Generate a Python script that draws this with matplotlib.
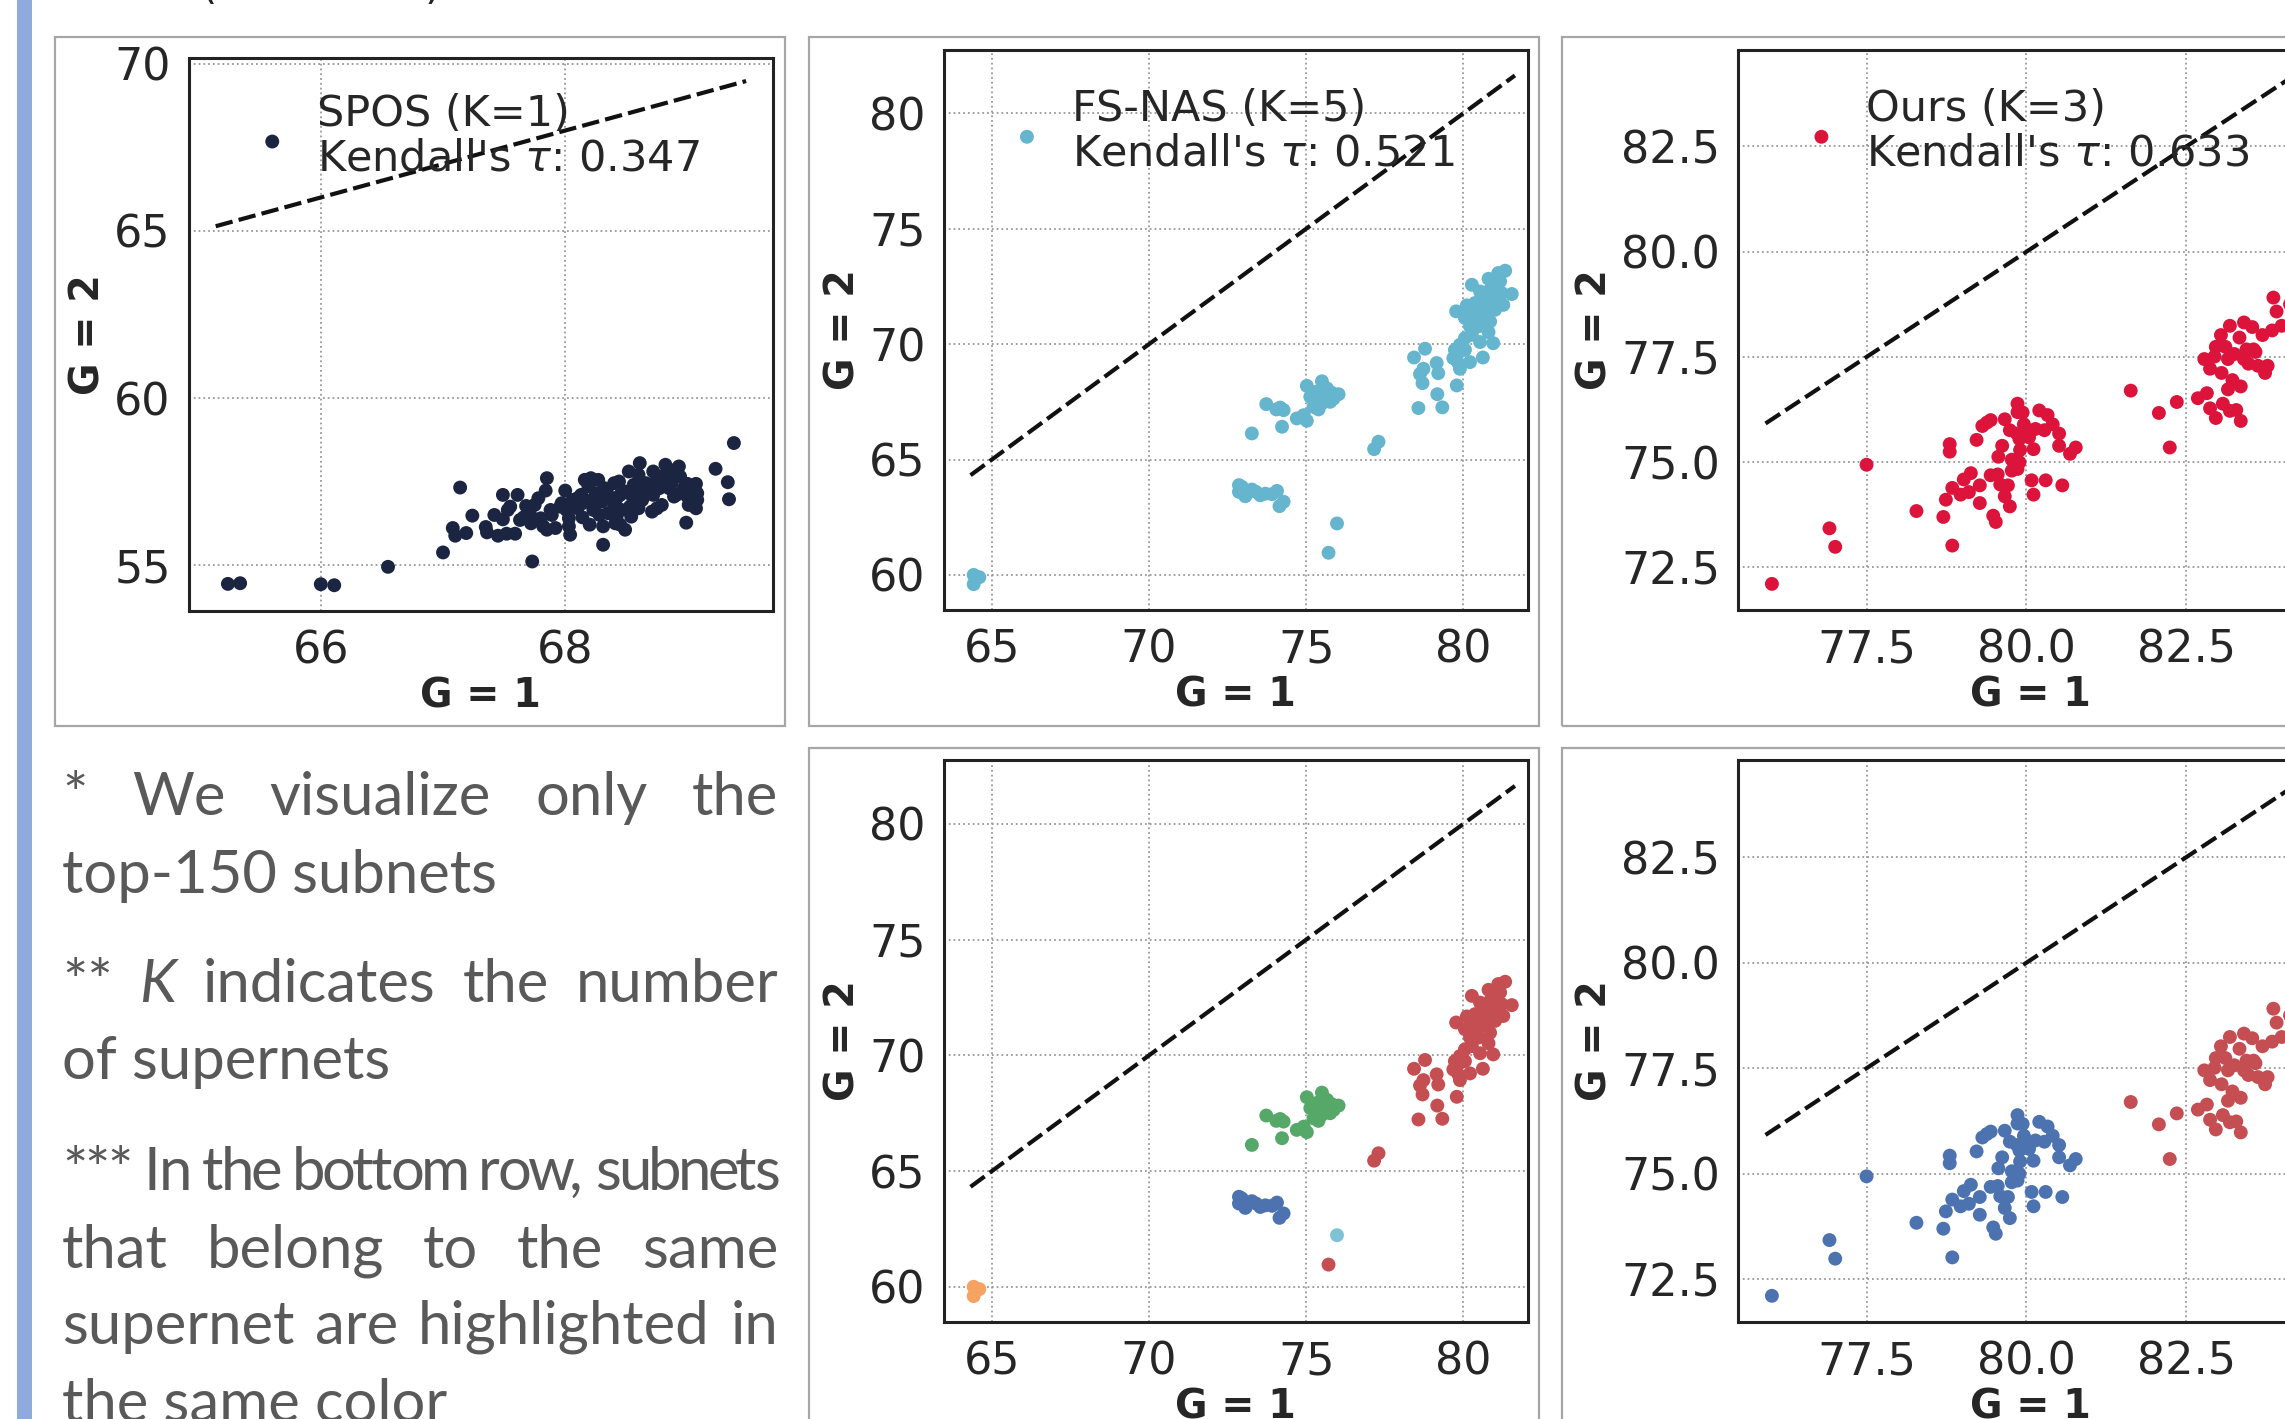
import matplotlib
matplotlib.use("Agg")
import matplotlib.pyplot as plt
from matplotlib.patches import Rectangle
import numpy as np

W, H, DPI = 2285, 1419, 100

# ---- data (G=1 accuracy, G=2 accuracy) ----
spos_pts = [
    (69.38, 58.66), (69.23, 57.89), (69.33, 57.49), (69.34, 56.98), (68.99, 56.28),
    (67.14, 57.33), (67.24, 56.49), (67.08, 56.12), (67.10, 55.89), (67.19, 55.97),
    (67.00, 55.39), (67.73, 55.12), (67.35, 56.15), (67.36, 55.99), (67.45, 55.89),
    (67.52, 55.95), (67.59, 55.95), (67.42, 56.51), (67.49, 56.38), (67.49, 57.11),
    (67.53, 56.66), (67.61, 57.11), (67.68, 56.78), (67.66, 56.44), (67.72, 56.26),
    (67.78, 57.01), (67.84, 57.24), (67.85, 57.61), (67.82, 56.17), (67.89, 56.51),
    (67.92, 56.12), (68.00, 57.24), (68.01, 56.66), (68.03, 56.17), (68.04, 55.92),
    (68.14, 56.86), (68.14, 56.44), (68.16, 57.56), (68.21, 57.61), (68.27, 57.56),
    (68.20, 56.22), (68.25, 57.16), (68.30, 56.91), (68.31, 56.17), (68.31, 55.62),
    (68.35, 56.56), (68.40, 57.46), (68.44, 57.51), (68.41, 56.26), (68.42, 57.01),
    (68.46, 56.66), (68.49, 56.07), (68.52, 57.81), (68.56, 57.41), (68.55, 57.06),
    (68.54, 56.46), (68.61, 58.06), (68.63, 56.96), (68.60, 57.71), (68.72, 57.81),
    (68.73, 57.46), (68.72, 57.11), (68.71, 56.61), (68.79, 56.81), (68.82, 58.01),
    (68.80, 57.56), (68.85, 57.31), (68.89, 57.76), (68.93, 57.96), (68.91, 57.11),
    (69.00, 57.44), (69.07, 57.44), (69.08, 57.16), (69.00, 57.06), (69.01, 56.81),
    (69.07, 56.71), (68.89, 57.06), (68.64, 57.26), (68.40, 56.76), (68.23, 56.66),
    (68.10, 56.71), (67.96, 56.76), (67.88, 56.66), (67.80, 56.41), (67.63, 56.36),
    (68.34, 57.21), (68.49, 57.21), (68.77, 57.66), (68.83, 57.71), (68.87, 57.46),
    (68.66, 57.46), (68.45, 57.11), (68.32, 57.31), (68.22, 56.96), (68.13, 57.11),
    (68.06, 56.96), (67.97, 56.86), (67.75, 56.81), (68.42, 56.46), (68.53, 56.76),
    (68.75, 56.71), (68.60, 56.71), (68.28, 56.51), (68.45, 56.22), (67.85, 56.07),
    (68.03, 56.41), (68.19, 57.36), (68.69, 57.26), (68.94, 57.66), (68.90, 57.86),
    (68.97, 57.31), (68.77, 57.31), (68.59, 57.06), (68.38, 57.01), (68.28, 57.06),
    (68.10, 57.01), (69.08, 56.96), (69.03, 57.26), (67.71, 56.56), (67.55, 56.76),
    (65.24, 54.45), (65.34, 54.47), (66.00, 54.44), (66.11, 54.41), (66.55, 54.96),
]

# FS-NAS (K=5), split by supernet
fs_orange = [(64.42, 60.00), (64.60, 59.90), (64.42, 59.60)]
fs_blue = [
    (72.86, 63.89), (72.86, 63.60), (73.07, 63.44), (72.95, 63.82), (73.06, 63.41),
    (73.27, 63.70), (73.54, 63.45), (73.91, 63.50), (74.07, 63.64), (74.28, 63.17),
    (74.15, 62.98), (73.40, 63.60), (73.70, 63.52),
]
fs_green = [
    (75.50, 68.39), (75.02, 68.19), (75.29, 67.79), (75.60, 67.86), (76.03, 67.83),
    (75.76, 67.50), (75.50, 67.43), (75.23, 67.28), (75.39, 67.17), (75.87, 67.64),
    (75.66, 68.08), (74.92, 66.92), (75.02, 66.68), (74.70, 66.78), (73.73, 67.40),
    (74.05, 67.17), (74.28, 67.14), (74.17, 67.25), (74.23, 66.42), (73.27, 66.13),
    (75.45, 67.57), (75.13, 67.72), (75.35, 67.95), (75.80, 67.90),
]
fs_cyan = [(75.98, 62.23)]
fs_red = [
    (81.33, 73.18), (81.11, 73.08), (80.80, 72.83), (81.17, 72.72), (80.27, 72.57),
    (81.54, 72.17), (80.85, 72.35), (80.53, 72.28), (81.22, 72.21), (80.95, 71.99),
    (81.27, 71.70), (80.74, 71.70), (80.37, 71.78), (80.11, 71.68), (79.77, 71.42),
    (81.01, 71.49), (80.58, 71.49), (80.32, 71.34), (80.05, 71.13), (80.85, 70.98),
    (80.21, 70.77), (80.48, 70.77), (80.80, 70.52), (80.27, 70.40), (80.53, 70.09),
    (80.95, 70.04), (79.89, 69.97), (80.05, 69.75), (78.78, 69.80), (78.43, 69.42),
    (79.73, 69.75), (79.68, 69.39), (79.84, 69.18), (79.89, 68.93), (80.21, 69.22),
    (80.62, 69.42), (79.15, 69.18), (78.73, 68.93), (78.62, 68.70), (79.20, 68.74),
    (78.70, 68.31), (79.79, 68.21), (79.17, 67.83), (78.57, 67.23), (79.33, 67.26),
    (80.74, 71.27), (81.06, 72.50), (80.64, 71.99), (80.42, 71.13), (80.21, 70.98),
    (79.89, 69.68), (80.05, 70.26), (77.30, 65.77), (77.16, 65.45), (75.71, 60.96),
]

# Ours (K=3), split by supernet
ours_blue = [
    (76.02, 72.11), (76.92, 73.43), (77.01, 72.99), (77.50, 74.94), (78.28, 73.84),
    (78.70, 73.70), (78.84, 73.02), (78.74, 74.11), (78.84, 74.39), (78.97, 74.23),
    (79.10, 74.29), (79.02, 74.59), (79.13, 74.74), (79.27, 74.45), (79.27, 74.03),
    (79.44, 74.69), (79.55, 74.71), (79.59, 74.47), (79.71, 74.45), (79.66, 74.19),
    (79.74, 73.95), (79.48, 73.73), (79.52, 73.58), (78.80, 75.43), (78.80, 75.25),
    (79.22, 75.53), (79.31, 75.86), (79.44, 76.00), (79.66, 76.02), (79.86, 76.39),
    (79.86, 76.19), (79.94, 76.18), (79.62, 75.39), (79.56, 75.13), (79.74, 75.76),
    (79.85, 75.68), (79.90, 75.29), (79.89, 75.55), (79.77, 75.06), (79.89, 75.00),
    (79.77, 74.80), (79.86, 74.84), (80.02, 75.75), (80.11, 75.31), (80.20, 76.23),
    (80.33, 76.12), (80.41, 75.90), (80.28, 75.76), (80.14, 75.79), (80.51, 75.68),
    (80.51, 75.39), (80.77, 75.35), (80.68, 75.20), (80.08, 74.57), (80.30, 74.57),
    (80.11, 74.23), (80.56, 74.45), (80.04, 75.59), (79.96, 75.90), (79.38, 75.94),
]
ours_red = [
    (81.63, 76.70), (82.07, 76.17), (82.35, 76.43), (82.24, 75.35), (82.68, 76.52),
    (82.82, 76.64), (82.87, 76.28), (82.96, 76.05), (83.07, 76.39), (83.18, 76.22),
    (83.28, 76.24), (83.35, 75.98), (83.15, 76.73), (83.35, 76.80), (82.87, 77.22),
    (82.94, 77.51), (83.05, 77.12), (83.04, 78.02), (83.11, 77.74), (83.18, 78.24),
    (83.33, 77.96), (83.40, 78.32), (83.53, 78.21), (83.25, 77.57), (83.40, 77.45),
    (83.55, 77.68), (83.62, 77.29), (83.73, 77.12), (83.69, 78.02), (83.86, 78.91),
    (83.91, 78.58), (83.84, 78.13), (83.77, 77.29), (83.22, 76.95), (83.47, 77.34),
    (83.58, 77.62), (82.96, 77.74), (83.15, 77.45), (82.78, 77.45), (83.44, 77.68),
    (83.99, 78.24), (84.12, 78.75), (84.20, 79.05),
]

spos_label = "SPOS (K=1)\nKendall's $\\tau$: 0.347"
fs_label = "FS-NAS (K=5)\nKendall's $\\tau$: 0.521"
ours_label = "Ours (K=3)\nKendall's $\\tau$: 0.633"

note_lines = [
    ("* We visualize only the", "justify", 815),
    ("top-150 subnets", "left", 893),
    ("** K indicates the number", "justify", 1002),
    ("of supernets", "left", 1079),
    ("*** In the bottom row, subnets", "squeeze", 1190),
    ("that belong to the same", "justify", 1268),
    ("supernet are highlighted in", "justify", 1344),
    ("the same color", "left", 1422),
]

TXT = "#262626"
NAVY = "#1b2542"
SKY = "#64b5cd"
CRIMSON = "#dc143c"
D_BLUE, D_ORANGE, D_GREEN, D_RED, D_CYAN = "#4c72b0", "#f5a263", "#55a868", "#c44e52", "#7ec3d3"

fig = plt.figure(figsize=(W / DPI, H / DPI), dpi=DPI)
fig.patch.set_facecolor("white")


def box(l, t, r, b):
    return [l / W, 1 - b / H, (r - l) / W, (b - t) / H]


# left accent bar and panel frames
fig.add_artist(Rectangle((17 / W, 0), 15 / W, 1, transform=fig.transFigure,
                         color="#8faadc", lw=0))
for (l, t, r, b) in [(55, 37, 785, 726), (809, 37, 1539, 726), (1562, 37, 2292, 726),
                     (809, 748, 1539, 1437), (1562, 748, 2292, 1437)]:
    x0, y0, w, h = box(l, t, r, b)
    fig.add_artist(Rectangle((x0, y0), w, h, transform=fig.transFigure,
                             fill=False, ec="#a6a6a6", lw=1.6))

# bits of a cut-off line at the very top
fig.text(200 / W, 1 + 0.5 / H, "(", fontsize=30, color="#222222", va="baseline")
fig.text(425 / W, 1 + 0.5 / H, ")", fontsize=30, color="#222222", va="baseline")


def style(ax, xlim, ylim, xt, yt):
    ax.set_xlim(xlim)
    ax.set_ylim(ylim)
    ax.set_xticks(xt)
    ax.set_yticks(yt)
    ax.grid(True, ls=":", lw=1.3, color="#999999")
    ax.set_axisbelow(True)
    for s in ax.spines.values():
        s.set_color("#222222")
        s.set_linewidth(2.2)
    ax.tick_params(length=0, pad=13, labelsize=32, labelcolor=TXT)
    ax.set_xlabel("G = 1", fontsize=28.5, fontweight="bold", color=TXT, labelpad=3)
    ax.set_ylabel("G = 2", fontsize=28.5, fontweight="bold", color=TXT, labelpad=4)


def diag(ax, xs):
    lo, hi = min(xs) - 0.1, max(xs) + 0.1
    ax.plot([lo, hi], [lo, hi], color="#111111", lw=3.0, ls=(0, (4.2, 1.5)), zorder=4)


def legend(ax, ytop):
    leg = ax.legend(loc="upper left", bbox_to_anchor=(0.106, ytop), frameon=False,
                    fontsize=31, handlelength=1.0, handletextpad=0.54,
                    borderpad=0, borderaxespad=0, scatterpoints=1)
    for t in leg.get_texts():
        t.set_color(TXT)
        t.set_linespacing(1.08)


S = 100
lim2 = ((63.46, 82.04), (58.48, 82.76), [65, 70, 75, 80], [60, 65, 70, 75, 80])
lim3 = ((75.49, 84.62), (71.49, 84.80), [77.5, 80.0, 82.5], [72.5, 75.0, 77.5, 80.0, 82.5])

# top-left: SPOS
ax1 = fig.add_axes(box(188.8, 57.6, 773, 611))
sx, sy = np.array(spos_pts).T
ax1.scatter(sx, sy, s=S, color=NAVY, edgecolors="none", zorder=3, label=spos_label)
diag(ax1, sx)
style(ax1, (64.92, 69.70), (53.64, 70.18), [66, 68], [55, 60, 65, 70])
legend(ax1, 0.936)

fs_groups = [(fs_orange, D_ORANGE), (fs_blue, D_BLUE), (fs_green, D_GREEN),
             (fs_cyan, D_CYAN), (fs_red, D_RED)]
fs_all = np.array(sum([g for g, _ in fs_groups], []))

# top-middle: FS-NAS
ax2 = fig.add_axes(box(943.5, 49.6, 1527.5, 610))
ax2.scatter(fs_all[:, 0], fs_all[:, 1], s=S, color=SKY, edgecolors="none", zorder=3,
            label=fs_label)
diag(ax2, fs_all[:, 0])
style(ax2, *lim2)
legend(ax2, 0.931)

ours_groups = [(ours_blue, D_BLUE), (ours_red, D_RED)]
ours_all = np.array(ours_blue + ours_red)

# top-right: ours
ax3 = fig.add_axes(box(1738, 49.6, 2322, 610))
ax3.scatter(ours_all[:, 0], ours_all[:, 1], s=S, color=CRIMSON, edgecolors="none",
            zorder=3, label=ours_label)
diag(ax3, ours_all[:, 0])
style(ax3, *lim3)
legend(ax3, 0.931)

# bottom row: coloured by supernet
ax4 = fig.add_axes(box(943.5, 760, 1527.5, 1322))
for g, c in fs_groups:
    a = np.array(g)
    ax4.scatter(a[:, 0], a[:, 1], s=S, color=c, edgecolors="none", zorder=3)
diag(ax4, fs_all[:, 0])
style(ax4, *lim2)

ax5 = fig.add_axes(box(1738, 760, 2322, 1322))
for g, c in ours_groups:
    a = np.array(g)
    ax5.scatter(a[:, 0], a[:, 1], s=S, color=c, edgecolors="none", zorder=3)
diag(ax5, ours_all[:, 0])
style(ax5, *lim3)

# ---- justified notes in the lower-left ----
NOTE_FONT, NOTE_SIZE, NOTE_COLOR = "Lato", 43, "#595959"
LEFT, RIGHT = 62, 778
renderer = fig.canvas.get_renderer()


def ink_width(s, fstyle="normal"):
    t = fig.text(0, 0, s, fontsize=NOTE_SIZE, family=NOTE_FONT, style=fstyle)
    w = t.get_window_extent(renderer).width
    t.remove()
    return w


def put(s, xpx, ypx, fstyle="normal"):
    fig.text(xpx / W, 1 - ypx / H, s, fontsize=NOTE_SIZE, family=NOTE_FONT,
             style=fstyle, color=NOTE_COLOR, va="baseline", ha="left")


for line, mode, base in note_lines:
    if mode == "left":
        put(line, LEFT, base)
    elif mode == "justify":
        words = line.split()
        styles = ["italic" if w == "K" else "normal" for w in words]
        widths = [ink_width(w, st) for w, st in zip(words, styles)]
        gap = (RIGHT - LEFT - sum(widths)) / (len(words) - 1)
        x = LEFT
        for w, st, wd in zip(words, styles, widths):
            put(w, x, base, st)
            x += wd + gap
    else:
        idx = [i for i, ch in enumerate(line) if ch != " "]
        pos = [ink_width(line[:i + 1]) - ink_width(line[i]) for i in idx]
        f = (RIGHT + 2 - LEFT - ink_width(line[idx[-1]])) / pos[-1]
        for i, p in zip(idx, pos):
            put(line[i], LEFT + f * p, base)

fig.savefig("out.png", dpi=DPI, facecolor="white")
